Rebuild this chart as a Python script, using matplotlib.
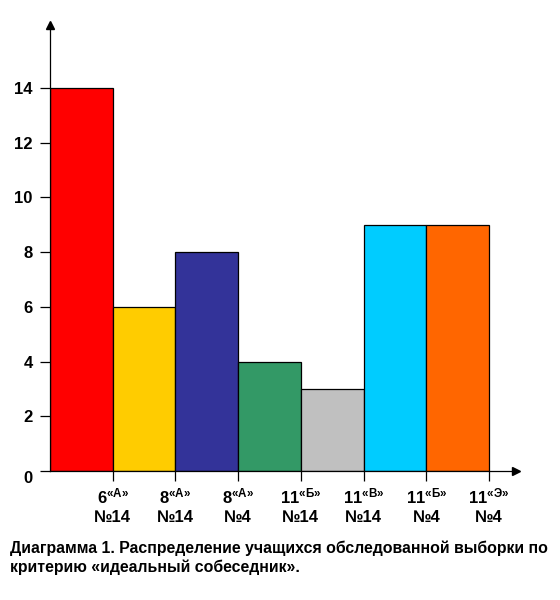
import numpy as np
import matplotlib
matplotlib.use("Agg")
import matplotlib.pyplot as plt
from matplotlib.transforms import ScaledTranslation

plt.rcParams['font.family'] = ['Liberation Sans', 'DejaVu Sans']
plt.rcParams['font.weight'] = 'bold'
plt.rcParams['mathtext.fontset'] = 'custom'
plt.rcParams['mathtext.rm'] = 'Liberation Sans:bold'
plt.rcParams['mathtext.bf'] = 'Liberation Sans:bold'
plt.rcParams['mathtext.default'] = 'rm'

# data
grades = ["6", "8", "8", "11", "11", "11", "11"]
letters = ["«А»", "«А»", "«А»", "«Б»", "«В»", "«Б»", "«Э»"]
schools = ["№14", "№14", "№4", "№14", "№14", "№4", "№4"]
counts = [14, 6, 8, 4, 3, 9, 9]
colors = ["#FF0000", "#FFCC00", "#333399", "#339966", "#C0C0C0", "#00CCFF", "#FF6600"]
yticks = [0, 2, 4, 6, 8, 10, 12, 14]

caption = ("Диаграмма 1. Распределение учащихся обследованной выборки по\n"
           "критерию «идеальный собеседник».")

fig = plt.figure(figsize=(5.6, 6), dpi=100)
ax = fig.add_axes([50 / 560, 129 / 600, 466 / 560, 446 / 600])

x = np.arange(len(counts))
ax.bar(x, counts, width=1.0, align='edge', color=colors,
       edgecolor='black', linewidth=0.9, zorder=2)

ax.set_xlim(0, 7.43)
ax.set_ylim(0, 16.3)

for s in ['top', 'right']:
    ax.spines[s].set_visible(False)
for s in ['left', 'bottom']:
    ax.spines[s].set_linewidth(0.9)

# arrow heads at the axis ends
ax.plot(0, 1, marker='^', color='black', markersize=6, transform=ax.transAxes,
        clip_on=False)
ax.plot(1, 0, marker='>', color='black', markersize=6, transform=ax.transAxes,
        clip_on=False)

ax.set_yticks(yticks)
ax.set_yticklabels([str(v) for v in yticks])
labels = [f"${g}^{{{l}}}$\n{s}" for g, l, s in zip(grades, letters, schools)]
ax.set_xticks(x + 1)
ax.set_xticklabels(labels, linespacing=1.25)

ax.tick_params(axis='both', direction='out', length=7.5, width=0.9,
               labelsize=12, pad=5)
ax.tick_params(axis='x', pad=4)

# the zero label sits a bit lower in the original
zero = ax.get_yticklabels()[0]
zero.set_transform(zero.get_transform() + ScaledTranslation(0, -0.06, fig.dpi_scale_trans))

fig.text(10 / 560, 1 - 541 / 600, caption, fontsize=11.4, weight='bold',
         va='top', ha='left', linespacing=1.25)

fig.savefig("out.png", dpi=100)
